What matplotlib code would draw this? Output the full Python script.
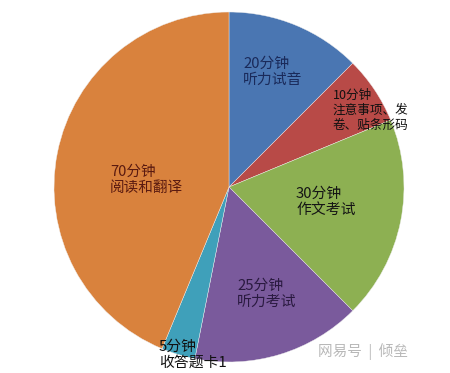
import matplotlib
matplotlib.use("Agg")
import matplotlib.pyplot as plt

plt.rcParams['font.family'] = ['Noto Sans CJK SC', 'DejaVu Sans']

minutes = [20, 10, 30, 25, 5, 70]
labels = ["20分钟\n听力试音", "10分钟\n注意事项、发\n卷、贴条形码", "30分钟\n作文考试",
          "25分钟\n听力考试", "5分钟\n收答题卡1", "70分钟\n阅读和翻译"]
colors = ["#4A76B2", "#B84A47", "#8DB052", "#7A5A9C", "#3FA0BA", "#D9823D"]
text_colors = ["#1A2A5A", "#111111", "#151515", "#2A1A40", "#111111", "#5A1A10"]
font_sizes = [10.7, 9.1, 10.7, 10.7, 10.7, 10.5]
# label anchor (left edge, vertical centre) in pie units
label_pos = [(0.08, 0.657), (0.594, 0.44), (0.383, -0.086), (0.046, -0.611),
             (-0.40, -0.958), (-0.68, 0.04)]

fig = plt.figure(figsize=(4.5, 3.73), dpi=100)
ax = fig.add_axes([0.12, 0.0295, 0.7778, 0.9383])
ax.pie(minutes, colors=colors, startangle=90, counterclock=False, radius=1,
       wedgeprops=dict(edgecolor="#EEEEEE", linewidth=0.3))
ax.set_xlim(-1, 1)
ax.set_ylim(-1, 1)
ax.set_aspect("equal")
ax.axis("off")

for lab, (x, y), tc, fs in zip(labels, label_pos, text_colors, font_sizes):
    ax.text(x, y, lab, ha="left", va="center", color=tc, fontsize=fs,
            linespacing=1.2, clip_on=False)

fig.text(318 / 450, 1 - 352 / 373, "网易号  |  倾垒", ha="left", va="center",
         color="#B8B8B8", fontsize=10.5)

fig.savefig("out.png", dpi=100)
